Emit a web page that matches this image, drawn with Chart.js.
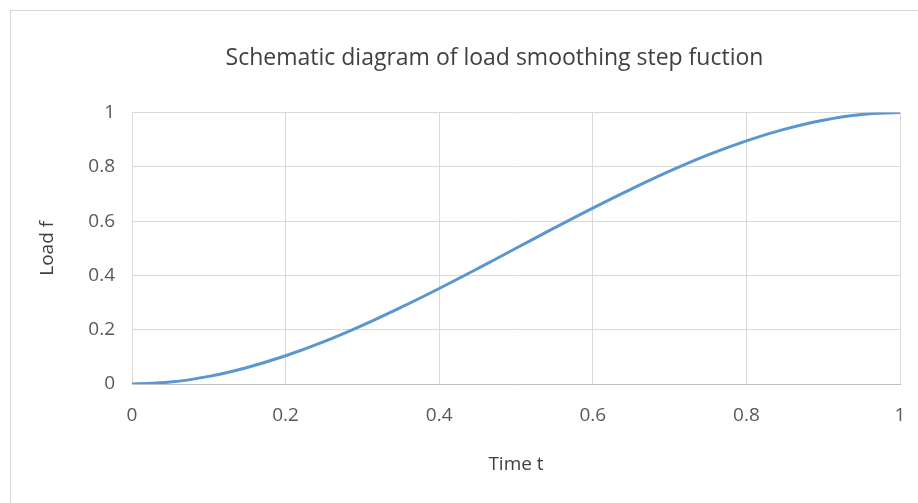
<!DOCTYPE html>
<html>
<head>
<meta charset="utf-8">
<script src="https://cdn.jsdelivr.net/npm/chart.js@4"></script>
<style>
  html, body { margin: 0; padding: 0; background: #fff; overflow: hidden; }
  #wrap { position: relative; width: 918px; height: 503px; }
  #frame { position: absolute; left: 10px; top: 10px; width: 930px; height: 520px; border: 1px solid #d9d9d9; box-sizing: border-box; }
  canvas { position: absolute; left: 0; top: 0; }
</style>
</head>
<body>
<div id="wrap">
  <div id="frame"></div>
  <canvas id="c" width="918" height="503"></canvas>
</div>
<script>
const timeValues = [0, 0.05, 0.1, 0.15, 0.2, 0.25, 0.3, 0.35, 0.4, 0.45, 0.5, 0.55, 0.6, 0.65, 0.7, 0.75, 0.8, 0.85, 0.9, 0.95, 1];
const loadValues = [0, 0.007, 0.028, 0.061, 0.104, 0.156, 0.216, 0.282, 0.352, 0.425, 0.5, 0.575, 0.648, 0.718, 0.784, 0.844, 0.896, 0.939, 0.972, 0.993, 1];
const tickValues = [0, 0.2, 0.4, 0.6, 0.8, 1];
const chartTitle = 'Schematic diagram of load smoothing step fuction';
const xAxisTitle = 'Time t';
const yAxisTitle = 'Load f';

const points = timeValues.map((t, i) => ({ x: t, y: loadValues[i] }));
const FONT = "'Open Sans', sans-serif";
const fmt = v => String(Number(v.toFixed(1)));
const fixTicks = s => { s.ticks = tickValues.map(v => ({ value: v })); };

new Chart(document.getElementById('c'), {
  type: 'scatter',
  data: {
    datasets: [{
      data: points,
      showLine: true,
      borderColor: '#5a96cf',
      borderWidth: 3,
      pointRadius: 0,
      tension: 0.4,
      fill: false
    }]
  },
  options: {
    responsive: false,
    animation: false,
    devicePixelRatio: 1,
    layout: { padding: { left: 0, right: 4, top: 0, bottom: 0 } },
    plugins: {
      legend: { display: false },
      tooltip: { enabled: false },
      title: {
        display: true,
        text: chartTitle,
        color: '#404040',
        font: { family: FONT, size: 23, weight: 'normal' },
        padding: { top: 45, bottom: 40 }
      }
    },
    scales: {
      x: {
        type: 'linear',
        min: 0, max: 1,
        afterBuildTicks: fixTicks,
        afterFit: s => { s.height = 119; s.paddingRight = 18; s.paddingLeft = 0; },
        ticks: { color: '#595959', font: { family: FONT, size: 19 }, padding: 20, maxRotation: 0, callback: fmt },
        grid: { color: '#d9d9d9', drawTicks: false },
        border: { color: '#bfbfbf' },
        title: { display: true, text: xAxisTitle, color: '#404040', font: { family: FONT, size: 19 }, padding: { top: 0, bottom: 27 } }
      },
      y: {
        min: 0, max: 1,
        afterBuildTicks: fixTicks,
        afterFit: s => { s.width = 132; },
        ticks: { color: '#595959', font: { family: FONT, size: 19 }, padding: 17, callback: fmt },
        grid: { color: '#d9d9d9', drawTicks: false },
        border: { color: '#d9d9d9' },
        title: { display: true, text: yAxisTitle, color: '#404040', font: { family: FONT, size: 19 }, padding: { top: 36, bottom: 0 } }
      }
    }
  },
  plugins: [{
    id: 'shiftTitle',
    afterLayout(chart) {
      if (chart.titleBlock) { chart.titleBlock.left += 75; }
    }
  }, {
    id: 'rightBorder',
    afterDraw(chart) {
      const { ctx, chartArea } = chart;
      ctx.save();
      ctx.strokeStyle = '#d9d9d9';
      ctx.lineWidth = 1;
      ctx.beginPath();
      ctx.moveTo(Math.round(chartArea.right) + 0.5, chartArea.top);
      ctx.lineTo(Math.round(chartArea.right) + 0.5, chartArea.bottom);
      ctx.stroke();
      ctx.restore();
    }
  }]
});
</script>
</body>
</html>
